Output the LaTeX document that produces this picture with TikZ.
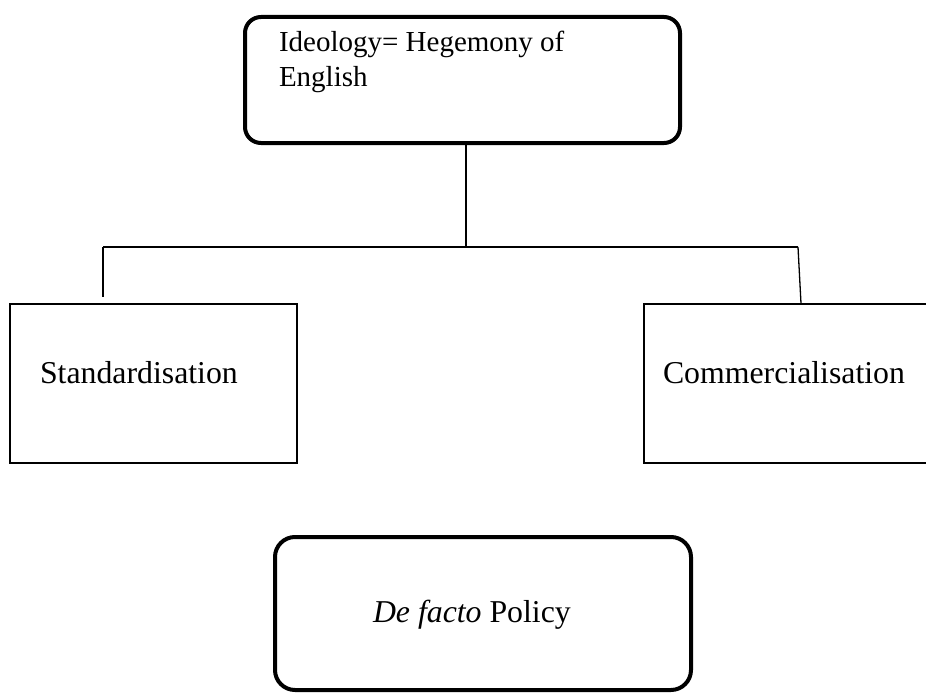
\documentclass[tikz,border=0pt]{standalone}
\usepackage{fontspec}
\setmainfont{Liberation Serif}
\begin{document}
\begin{tikzpicture}[x=1pt, y=-1pt,
  roundbox/.style={draw, line width=4pt, rounded corners=16pt, outer sep=0pt, inner ysep=0pt, align=flush left},
  sidebox/.style={draw, line width=2pt, outer sep=0pt, inner ysep=0pt, align=flush left,
    text height=79.5pt, text depth=79.5pt, font=\fontsize{31.8}{38}\selectfont},
  tree/.style={line width=1.3pt}]
  % page frame, same size as the picture
  \useasboundingbox (0,0) rectangle (926,693);

  % ideology box at the top
  \node[roundbox, anchor=north west, inner xsep=34pt, text width=367pt,
    text height=35pt, text depth=91pt, font=\fontsize{29}{35}\selectfont]
    (ideo) at (245,17) {Ideology= Hegemony of\\English};

  % the two branches
  \node[sidebox, anchor=north west, inner xsep=30pt, text width=227pt]
    (std) at (10,303.5) {Standardisation};
  \node[sidebox, anchor=north west, inner xsep=19pt, text width=249pt]
    (comm) at (644,303.5) {Commercialisation};

  % policy box at the bottom
  \node[roundbox, rounded corners=20pt, anchor=north west, inner xsep=98pt, text width=220pt,
    text height=85pt, text depth=68pt, font=\fontsize{31.8}{38}\selectfont]
    (policy) at (275,537) {\textit{De facto} Policy};

  % connecting lines
  \coordinate (barL) at (103,247);
  \coordinate (barR) at (798,247);
  \draw[tree] ([xshift=3.5pt]ideo.south) -- ([xshift=3.5pt]ideo.south |- barL);
  \draw[tree, line width=1.8pt] (barL) -- (barR);
  \draw[tree] (barL) -- ([yshift=7pt]barL |- std.north);
  \draw[tree] (barR) -- ([xshift=3pt]barR |- comm.north);
\end{tikzpicture}
\end{document}
